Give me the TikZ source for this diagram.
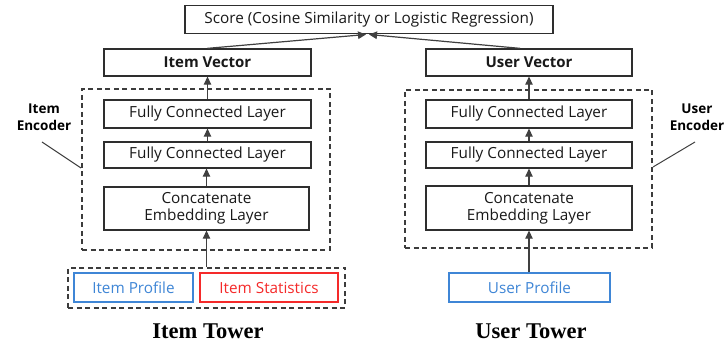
\documentclass[tikz,border=0pt]{standalone}
\usepackage{fontspec}
\setmainfont{Open Sans}
\newfontfamily\towerfont{Liberation Serif}
\usetikzlibrary{arrows.meta,calc}
\definecolor{edge}{HTML}{2E2E2E}
\definecolor{dash}{HTML}{3C3C3C}
\definecolor{profileblue}{HTML}{3F86D6}
\definecolor{statred}{HTML}{F52A2A}
\tikzset{
  layer/.style={draw=edge, line width=1.3pt, fill=white, inner sep=0pt,
    align=center, font=\fontsize{15.3}{16}\selectfont, text=black!90},
  group/.style={draw=dash, line width=1.5pt, dash pattern=on 5pt off 3.5pt, inner sep=0pt},
  link/.style={draw=black!75, line width=1.2pt, -{Triangle[length=8pt,width=7.5pt]}},
  pointer/.style={draw=black!75, line width=1pt},
  tower/.style={font=\towerfont\bfseries\fontsize{22.5}{24}\selectfont},
  enclabel/.style={align=center, font=\bfseries\fontsize{13.5}{16.5}\selectfont},
}
\begin{document}
\begin{tikzpicture}[x=1pt,y=-1pt]
\useasboundingbox (0,0) rectangle (726,347);

% score on top
\node[layer, minimum width=368pt, minimum height=28pt] (score) at (369,19.5)
  {Score (Cosine Similarity or Logistic Regression)};

% encoder groups (drawn first, layers sit on top)
\node[group, minimum width=248pt, minimum height=161pt] (ienc) at (206,169.5) {};
\node[group, minimum width=247pt, minimum height=158pt] (uenc) at (528.5,169) {};

% item tower
\node[layer, minimum width=207pt, minimum height=27pt, font=\bfseries\fontsize{15}{16}\selectfont] (iv) at (207.5,62.5) {Item Vector};
\node[layer, minimum width=207pt, minimum height=28pt] (ifc1) at (207.5,114) {Fully Connected Layer};
\node[layer, minimum width=207pt, minimum height=26pt] (ifc2) at (207.5,155) {Fully Connected Layer};
\node[layer, minimum width=205pt, minimum height=43pt] (icat) at (206.5,208.5) {Concatenate\\[1pt]Embedding Layer};

% item inputs
\node[group, minimum width=277pt, minimum height=40pt] (iin) at (206.5,288) {};
\node[layer, draw=profileblue, text=profileblue, minimum width=119pt, minimum height=29pt] (iprof) at (133.5,287.5) {Item Profile};
\node[layer, draw=statred, text=statred, minimum width=138pt, minimum height=29pt] (istat) at (269,287.5) {Item Statistics};

% user tower
\node[layer, minimum width=206pt, minimum height=27pt, font=\bfseries\fontsize{15}{16}\selectfont] (uv) at (529,62.5) {User Vector};
\node[layer, minimum width=206pt, minimum height=28pt] (ufc1) at (529,114) {Fully Connected Layer};
\node[layer, minimum width=206pt, minimum height=26pt] (ufc2) at (529,155) {Fully Connected Layer};
\node[layer, minimum width=206pt, minimum height=44pt] (ucat) at (529,208) {Concatenate\\[1pt]Embedding Layer};
\node[layer, draw=profileblue, text=profileblue, minimum width=161pt, minimum height=29pt] (uprof) at (529.5,287.5) {User Profile};

% tower titles
\node[tower] (itower) at (208,331) {Item Tower};
\node[tower] (utower) at (531,331) {User Tower};

% encoder labels with pointer lines
\node[enclabel] (ilab) at (44,117) {Item\\Encoder};
\node[enclabel] (ulab) at (697,117) {User\\Encoder};
\coordinate (ipa) at (42,142);
\coordinate (ipb) at (81,168);
\coordinate (upa) at (695,142);
\coordinate (upb) at (653,167);
\draw[pointer] (ipa) -- (ipb);
\draw[pointer] (upa) -- (upb);

% data flow
\draw[link] (iin.north -| icat.south) -- (icat.south);
\draw[link] (icat.north) -- (icat.north |- ifc2.south);
\draw[link] (ifc2.north) -- (ifc2.north |- ifc1.south);
\draw[link] (ifc1.north) -- (ifc1.north |- iv.south);
\draw[link] (uprof.north -| ucat.south) -- (ucat.south);
\draw[link] (ucat.north) -- (ufc2.south);
\draw[link] (ufc2.north) -- (ufc1.south);
\draw[link] (ufc1.north) -- (uv.south);

\coordinate (sin) at (366,34.5);
\coordinate (sun) at (369,34.5);
\draw[link] (iv.north) -- (sin);
\draw[link] ($(uv.north)+(-9,0)$) -- (sun);
\end{tikzpicture}
\end{document}
